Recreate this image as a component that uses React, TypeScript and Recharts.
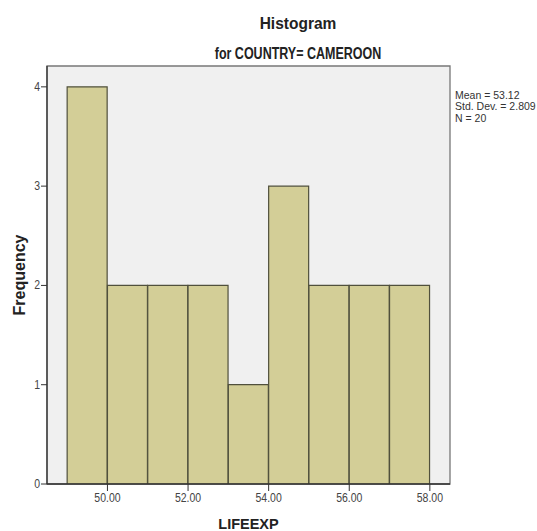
import React from "react";
import { ComposedChart, Bar, XAxis, YAxis, CartesianGrid, Label, ReferenceArea } from "recharts";

const binCenters = [49.5, 50.5, 51.5, 52.5, 53.5, 54.5, 55.5, 56.5, 57.5];
const frequencies = [4, 2, 2, 2, 1, 3, 2, 2, 2];
const xTicks = [50, 52, 54, 56, 58];
const yTicks = [0, 1, 2, 3, 4];
const statsLines = ["Mean = 53.12", "Std. Dev. = 2.809", "N = 20"];
const xDomain = [48.5, 58.5];
const yDomain = [0, 4.21];

const data = binCenters.map((x, i) => ({ x, count: frequencies[i] }));

const font = "'Liberation Sans', Arial, sans-serif";

const XTick = (props: any) => {
  const { x, y, payload } = props;
  return (
    <g transform={`translate(${x},${y}) scale(1,1.15)`}>
      <text x={0} y={0} dy={8} textAnchor="middle" fontSize={10.5} fill="#444" fontFamily={font}>
        {Number(payload.value).toFixed(2)}
      </text>
    </g>
  );
};

const YTick = (props: any) => {
  const { x, y, payload } = props;
  return (
    <g transform={`translate(${x},${y}) scale(1,1.15)`}>
      <text x={0} y={0} dy={3.5} textAnchor="end" fontSize={10.5} fill="#444" fontFamily={font}>
        {payload.value}
      </text>
    </g>
  );
};

export default function App() {
  return (
    <div style={{ position: "absolute", left: 0, top: 0, width: 537, height: 531, background: "#fff", fontFamily: font }}>
      <div
        style={{
          position: "absolute",
          left: 0,
          width: 596,
          top: 14.6,
          textAlign: "center",
          fontSize: 15.5,
          lineHeight: "15.5px",
          fontWeight: "bold",
          color: "#222",
          transform: "scaleY(1.1)",
          transformOrigin: "top",
        }}
      >
        Histogram
      </div>
      <div
        style={{
          position: "absolute",
          left: 0,
          width: 596,
          top: 46.3,
          textAlign: "center",
          fontSize: 12.5,
          lineHeight: "12.5px",
          fontWeight: "bold",
          color: "#222",
          transform: "scaleY(1.25)",
          transformOrigin: "top",
        }}
      >
        for COUNTRY= CAMEROON
      </div>
      <div
        style={{
          position: "absolute",
          left: 455,
          top: 89.6,
          fontSize: 10.5,
          lineHeight: "11.5px",
          color: "#333",
          whiteSpace: "nowrap",
        }}
      >
        {statsLines.map((s) => (
          <div key={s}>{s}</div>
        ))}
      </div>
      <ComposedChart
        width={537}
        height={531}
        data={data}
        margin={{ top: 66, right: 87, bottom: 17, left: 17 }}
        barCategoryGap={0}
        barGap={0}
        style={{ position: "absolute", left: 0, top: 0 }}
      >
        <CartesianGrid fill="#f0f0f0" horizontal={false} vertical={false} />
        <ReferenceArea
          x1={xDomain[0]}
          x2={xDomain[1]}
          y1={yDomain[0]}
          y2={yDomain[1]}
          fill="none"
          fillOpacity={0}
          stroke="#777"
          strokeWidth={1.3}
          ifOverflow="visible"
        />
        <XAxis
          dataKey="x"
          type="number"
          domain={xDomain}
          allowDataOverflow
          ticks={xTicks}
          tick={<XTick />}
          tickSize={7}
          tickMargin={2}
          height={30}
          axisLine={{ stroke: "#333", strokeWidth: 1.3 }}
          tickLine={{ stroke: "#333" }}
        >
          <Label value="LIFEEXP" position="bottom" dy={0} style={{ fontSize: 14.5, fontWeight: "bold", fill: "#222", fontFamily: font }} />
        </XAxis>
        <YAxis
          type="number"
          domain={yDomain}
          allowDataOverflow
          ticks={yTicks}
          tick={<YTick />}
          tickSize={6}
          tickMargin={1}
          width={30}
          axisLine={{ stroke: "#333", strokeWidth: 1.3 }}
          tickLine={{ stroke: "#333" }}
        >
          <Label value="Frequency" angle={-90} position="insideLeft" dx={-3} dy={0} style={{ fontSize: 16, fontWeight: "bold", fill: "#222", fontFamily: font, textAnchor: "middle" }} />
        </YAxis>
        <Bar dataKey="count" fill="#d3ce97" stroke="#50503c" strokeWidth={1.2} isAnimationActive={false} />
      </ComposedChart>
    </div>
  );
}
